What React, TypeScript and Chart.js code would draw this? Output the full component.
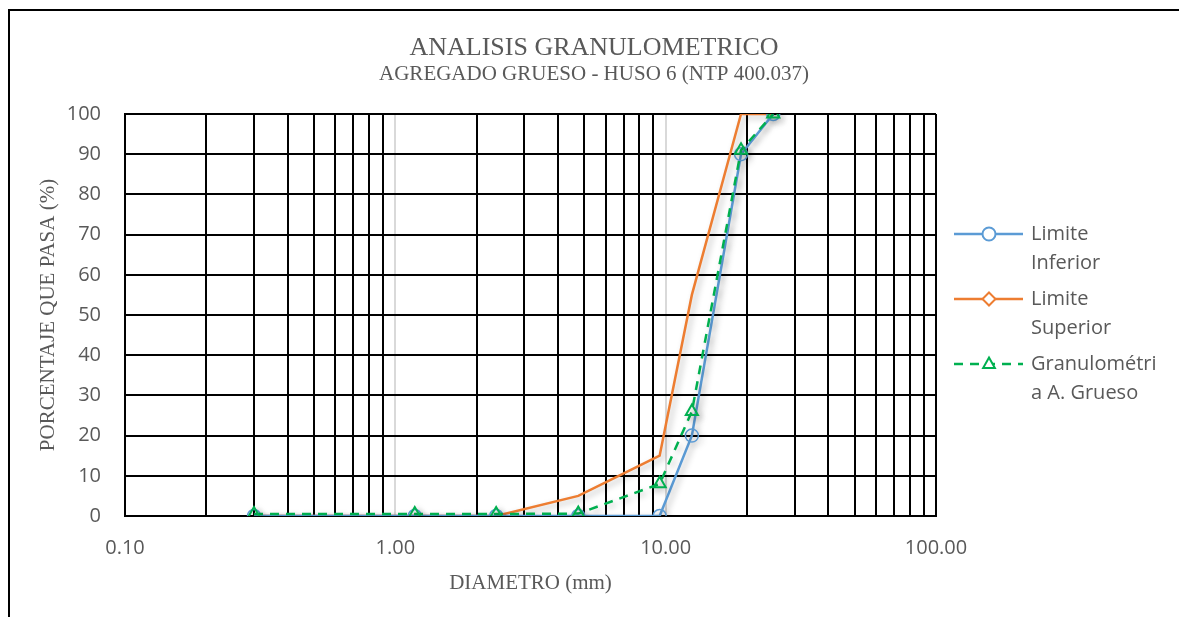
import React, { useEffect, useRef } from "react";
import { Chart, registerables } from "chart.js";

Chart.register(...registerables);

const TITLE = "ANALISIS GRANULOMETRICO";
const SUBTITLE = "AGREGADO GRUESO - HUSO 6 (NTP 400.037)";
const X_TITLE = "DIAMETRO (mm)";
const Y_TITLE = "PORCENTAJE QUE PASA (%)";

// Sieve openings (mm)
const SIEVE_MM = [0.3, 1.18, 2.36, 4.75, 9.5, 12.5, 19, 25];
const LIMITE_INFERIOR = [0, 0, 0, 0, 0, 20, 90, 100];
const LIMITE_SUPERIOR = [0, 0, 0, 5, 15, 55, 100, 100];
const GRANULOMETRIA = [0.5, 0.5, 0.5, 0.6, 8, 26, 91, 100];

const SERIES_NAMES = ["Limite Inferior", "Limite Superior", "Granulométria A. Grueso"];
const LEGEND_LINES = [
  ["Limite", "Inferior"],
  ["Limite", "Superior"],
  ["Granulométri", "a A. Grueso"],
];

const X_GRID_VALUES = [
  0.1, 0.2, 0.3, 0.4, 0.5, 0.6, 0.7, 0.8, 0.9,
  1, 2, 3, 4, 5, 6, 7, 8, 9,
  10, 20, 30, 40, 50, 60, 70, 80, 90,
  100,
];
const X_LABELED = [0.1, 1, 10, 100];
const X_TICK_LABELS = ["0.10", "1.00", "10.00", "100.00"];
const X_LIGHT_GRID = [1, 10];

const BLUE = "#5B9BD5";
const ORANGE = "#ED7D31";
const GREEN = "#00B050";
const TEXT = "#595959";

function drawMarker(ctx: CanvasRenderingContext2D, style: string, x: number, y: number, r: number, color: string, lw: number) {
  ctx.save();
  ctx.strokeStyle = color;
  ctx.fillStyle = "#ffffff";
  ctx.lineWidth = lw;
  ctx.setLineDash([]);
  ctx.beginPath();
  if (style === "circle") {
    ctx.arc(x, y, r, 0, Math.PI * 2);
  } else if (style === "rectRot") {
    ctx.moveTo(x, y - r);
    ctx.lineTo(x + r, y);
    ctx.lineTo(x, y + r);
    ctx.lineTo(x - r, y);
    ctx.closePath();
  } else {
    const h = r * 1.5;
    ctx.moveTo(x, y - r);
    ctx.lineTo(x + r * 0.9, y + r * 0.6);
    ctx.lineTo(x - r * 0.9, y + r * 0.6);
    ctx.closePath();
    void h;
  }
  ctx.fill();
  ctx.stroke();
  ctx.restore();
}

const decorPlugin = {
  id: "decor",
  beforeDatasetDraw(chart: any, args: any) {
    const ds = chart.data.datasets[args.index];
    const c = chart.ctx;
    c.save();
    if (ds.shadow) {
      c.shadowColor = "rgba(0,0,0,0.28)";
      c.shadowBlur = 6;
      c.shadowOffsetX = 3;
      c.shadowOffsetY = 3;
    }
  },
  afterDatasetDraw(chart: any) {
    chart.ctx.restore();
  },
  afterDraw(chart: any) {
    const ctx = chart.ctx as CanvasRenderingContext2D;
    ctx.save();
    ctx.fillStyle = TEXT;
    ctx.textAlign = "center";
    ctx.textBaseline = "alphabetic";
    ctx.font = '26px "Liberation Serif"';
    ctx.fillText(TITLE, 594, 55);
    ctx.font = '21px "Liberation Serif"';
    ctx.fillText(SUBTITLE, 594, 80);

    // legend
    const styles = [
      { color: BLUE, marker: "circle", dash: [] as number[] },
      { color: ORANGE, marker: "rectRot", dash: [] as number[] },
      { color: GREEN, marker: "triangle", dash: [9, 7] },
    ];
    const x0 = 954;
    const x1 = 1023;
    const xm = 989;
    ctx.textAlign = "left";
    ctx.textBaseline = "middle";
    ctx.font = '20px "Open Sans"';
    LEGEND_LINES.forEach((lines, i) => {
      const y = 234 + i * 65;
      const s = styles[i];
      ctx.save();
      ctx.strokeStyle = s.color;
      ctx.lineWidth = 2.5;
      ctx.setLineDash(s.dash);
      ctx.beginPath();
      ctx.moveTo(x0, y);
      ctx.lineTo(x1, y);
      ctx.stroke();
      ctx.restore();
      drawMarker(ctx, s.marker, xm, y, 6.5, s.color, 2);
      ctx.fillStyle = TEXT;
      lines.forEach((t, j) => ctx.fillText(t, 1031, y + j * 29));
    });
    ctx.restore();
  },
};

export default function App() {
  const ref = useRef<HTMLCanvasElement | null>(null);

  useEffect(() => {
    if (!ref.current) return;
    const mk = (arr: number[]) => SIEVE_MM.map((x, i) => ({ x, y: arr[i] }));
    const chart = new Chart(ref.current, {
      type: "line",
      data: {
        datasets: [
          {
            label: SERIES_NAMES[0],
            data: mk(LIMITE_INFERIOR),
            borderColor: BLUE,
            borderWidth: 2.5,
            pointStyle: "circle",
            pointRadius: 6.5,
            pointBorderWidth: 1.5,
            pointBorderColor: BLUE,
            pointBackgroundColor: "rgba(255,255,255,0)",
            fill: false,
            tension: 0,
            order: 1,
            shadow: true,
          } as any,
          {
            label: SERIES_NAMES[1],
            data: mk(LIMITE_SUPERIOR),
            borderColor: ORANGE,
            borderWidth: 2.5,
            pointRadius: 0,
            pointHoverRadius: 0,
            fill: false,
            tension: 0,
            order: 2,
            shadow: true,
          } as any,
          {
            label: SERIES_NAMES[2],
            data: mk(GRANULOMETRIA),
            borderColor: GREEN,
            borderWidth: 2.5,
            borderDash: [9, 7],
            pointStyle: "triangle",
            pointRadius: 7,
            pointBorderWidth: 2,
            pointBorderColor: GREEN,
            pointBackgroundColor: "rgba(255,255,255,0)",
            fill: false,
            tension: 0,
            order: 0,
            shadow: true,
          } as any,
        ],
      },
      options: {
        responsive: false,
        animation: false,
        devicePixelRatio: 1,
        layout: { padding: { top: 114, left: 0, right: 243, bottom: 0 } },
        plugins: {
          legend: { display: false },
          title: { display: false },
          tooltip: { enabled: false },
        },
        scales: {
          x: {
            type: "logarithmic",
            min: 0.1,
            max: 100,
            afterBuildTicks: (axis: any) => {
              axis.ticks = X_GRID_VALUES.map((v) => ({ value: v }));
            },
            afterFit: (axis: any) => {
              axis.height = 101;
            },
            ticks: {
              autoSkip: false,
              maxRotation: 0,
              padding: 20,
              color: TEXT,
              font: { family: "Open Sans", size: 20 },
              callback: (value: any) => {
                const i = X_LABELED.findIndex((v) => Math.abs(v - Number(value)) < 1e-9);
                return i >= 0 ? X_TICK_LABELS[i] : "";
              },
            },
            grid: {
              drawTicks: false,
              lineWidth: 2,
              color: (c: any) => (c.tick && X_LIGHT_GRID.includes(c.tick.value) ? "#d9d9d9" : "#000000"),
            },
            border: { display: true, color: "#000000", width: 2 },
            title: {
              display: true,
              text: X_TITLE,
              color: TEXT,
              font: { family: "Liberation Serif", size: 21 },
              padding: { top: 0, bottom: 21 },
            },
          },
          y: {
            type: "linear",
            min: 0,
            max: 100,
            afterFit: (axis: any) => {
              axis.width = 125;
            },
            ticks: {
              stepSize: 10,
              padding: 24,
              color: TEXT,
              font: { family: "Open Sans", size: 20 },
            },
            grid: { drawTicks: false, lineWidth: 2, color: "#000000" },
            border: { display: true, color: "#000000", width: 2 },
            title: {
              display: true,
              text: Y_TITLE,
              color: TEXT,
              font: { family: "Liberation Serif", size: 21 },
              padding: { top: 36, bottom: 0 },
            },
          },
        },
      } as any,
      plugins: [decorPlugin as any],
    });
    return () => chart.destroy();
  }, []);

  return (
    <div style={{ position: "fixed", left: 0, top: 0, width: 1179, height: 617, overflow: "hidden", background: "#ffffff" }}>
      <div
        style={{
          position: "absolute",
          left: 8,
          top: 9,
          width: 1300,
          height: 800,
          border: "2px solid #000000",
          boxSizing: "border-box",
        }}
      />
      <canvas ref={ref} width={1179} height={617} style={{ position: "absolute", left: 0, top: 0 }} />
    </div>
  );
}
